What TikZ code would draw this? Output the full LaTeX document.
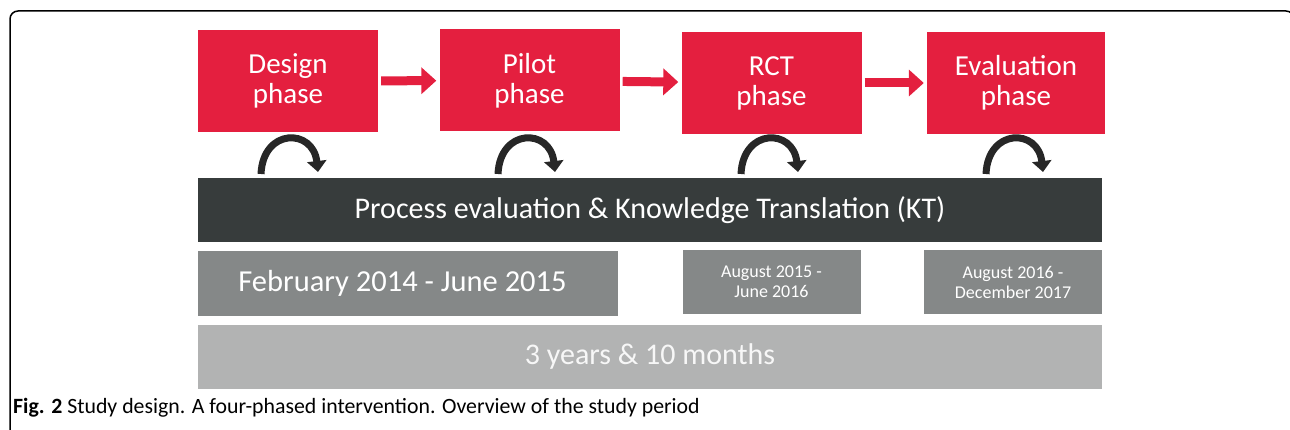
\documentclass[tikz,border=0pt]{standalone}
\usepackage{fontspec}
\setmainfont{Carlito}
\usetikzlibrary{arrows.meta}
\definecolor{phasered}{HTML}{E41F3F}
\definecolor{ktdark}{HTML}{373C3C}
\definecolor{dategray}{HTML}{858888}
\definecolor{totalgray}{HTML}{B2B3B3}
\definecolor{loopblack}{HTML}{272727}
\tikzset{
  phasebox/.style={fill=phasered, text=white, inner sep=0pt, minimum width=180pt,
    minimum height=102pt, align=center, font=\fontsize{29}{30}\selectfont},
  barbox/.style={inner sep=0pt, minimum width=904pt, minimum height=64pt,
    text=white, font=\fontsize{30}{32}\selectfont},
  datebox/.style={fill=dategray, text=white, inner sep=0pt, minimum width=178pt,
    minimum height=64pt, align=center, font=\fontsize{18}{20}\selectfont},
  nextphase/.style={draw=phasered, line width=9pt, shorten <=3pt, shorten >=3pt,
    -{Triangle[width=26pt,length=15pt]}},
  ktloop/.style={draw=loopblack, line width=7pt, -{Triangle[width=19pt,length=11pt]}}
}
\begin{document}
\begin{tikzpicture}[x=1pt,y=-1pt]
\useasboundingbox (0,0) rectangle (1290,430);
% frame
\draw[line width=1.5pt, rounded corners=8pt] (10,440) -- (10,11) -- (1294,11) -- (1294,440);

% phases
\node[phasebox] (design) at (288,81) {Design\\phase};
\node[phasebox] (pilot) at (529.5,80.5) {Pilot\\phase};
\node[phasebox] (rct) at (771.5,83) {RCT\\phase};
\node[phasebox, minimum width=178pt] (eval) at (1016,83) {Evaluation\\phase};

\path[nextphase] (design) -- (pilot);
\path[nextphase] (pilot) -- (rct);
\path[nextphase] (rct) -- (eval);

% loops
\foreach \cx in {290,527,770,1015}
  \path[ktloop] (\cx-29,174) .. controls (\cx-27,128) and (\cx+23,128) .. (\cx+28,172);

% KT bar and periods
\node[barbox, fill=ktdark] (kt) at (650,210) {Process evaluation \& Knowledge Translation (KT)};
\node[datebox, minimum width=420pt, font=\fontsize{30.5}{32}\selectfont] (feb) at (408,283.5) {February 2014 - June 2015\hspace*{11pt}};
\node[datebox] (aug15) at (771.5,282) {August 2015 -\\June 2016};
\node[datebox] (aug16) at (1013,282) {August 2016 -\\December 2017};
\node[barbox, fill=totalgray, text=white!94!gray] (total) at (650,357) {3 years \& 10 months};

% caption
\node[anchor=base west, inner sep=0pt, font=\fontsize{21.8}{23}\selectfont] (caption) at (13,413)
  {\textbf{Fig. 2} Study design. A four-phased intervention. Overview of the study period};
\end{tikzpicture}
\end{document}
